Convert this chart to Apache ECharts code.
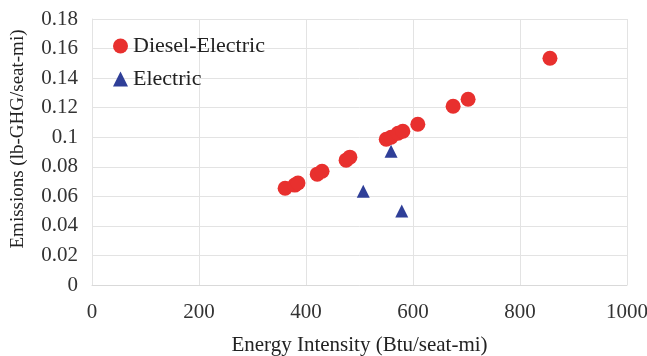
<!DOCTYPE html>
<html>
<head>
<meta charset="utf-8">
<script src="https://cdn.jsdelivr.net/npm/echarts@6/dist/echarts.min.js"></script>
<style>
  html, body { margin: 0; padding: 0; background: #fff; }
  #main { width: 647px; height: 356px; }
</style>
</head>
<body>
<div id="main"></div>
<script>
// 数据：能耗强度 vs 排放
var dieselElectric = [
  [361, 0.0655], [379, 0.0676], [385, 0.069], [421, 0.075], [430, 0.077],
  [475, 0.0845], [482, 0.0865], [550, 0.0986], [559, 0.1], [572, 0.1027],
  [581, 0.104], [609, 0.1088], [675, 0.121], [703, 0.1257], [856, 0.1534]
];
var electric = [[507, 0.0635], [559, 0.0905], [579, 0.05]];
var xTicks = [0, 1000, 200];
var yTicks = [0, 0.18, 0.02];

var font = 'Liberation Serif';
var chart = echarts.init(document.getElementById('main'));
chart.setOption({
  animation: false,
  textStyle: { fontFamily: font },
  grid: { left: 92, right: 20, top: 19, bottom: 71, containLabel: false, outerBoundsMode: 'none' },
  legend: {
    orient: 'vertical',
    left: 108,
    top: 30,
    itemGap: 11,
    itemWidth: 15,
    itemHeight: 15,
    textStyle: { fontFamily: font, fontSize: 22, color: '#222' },
    data: [
      { name: 'Diesel-Electric', icon: 'circle' },
      { name: 'Electric', icon: 'triangle' }
    ]
  },
  xAxis: {
    type: 'value',
    min: xTicks[0], max: xTicks[1], interval: xTicks[2],
    name: 'Energy Intensity (Btu/seat-mi)',
    nameLocation: 'middle',
    nameGap: 50,
    nameTextStyle: { fontFamily: font, fontSize: 21, color: '#222' },
    axisLine: { show: true, lineStyle: { color: '#d9d9d9' } },
    axisTick: { show: false },
    axisLabel: {
      fontFamily: font, fontSize: 21, color: '#333', margin: 17,
      formatter: function (v) { return String(v); }
    },
    splitLine: { lineStyle: { color: '#e3e3e3' } }
  },
  yAxis: {
    type: 'value',
    min: yTicks[0], max: yTicks[1], interval: yTicks[2],
    name: 'Emissions (lb-GHG/seat-mi)',
    nameLocation: 'middle',
    nameGap: 64,
    nameTextStyle: { fontFamily: font, fontSize: 19, color: '#222', padding: [0, 0, 0, 26] },
    axisLine: { show: true, lineStyle: { color: '#e3e3e3' } },
    axisTick: { show: false },
    axisLabel: {
      fontFamily: font, fontSize: 21, color: '#333', margin: 14,
      formatter: function (v) { return String(+v.toFixed(2)); }
    },
    splitLine: { lineStyle: { color: '#e3e3e3' } }
  },
  series: [
    {
      name: 'Diesel-Electric',
      type: 'scatter',
      symbol: 'circle',
      symbolSize: 15,
      itemStyle: { color: '#e8302e', opacity: 1 },
      data: dieselElectric
    },
    {
      name: 'Electric',
      type: 'scatter',
      symbol: 'triangle',
      symbolSize: 13,
      itemStyle: { color: '#2f3f98', opacity: 1 },
      data: electric
    }
  ]
});
</script>
</body>
</html>
